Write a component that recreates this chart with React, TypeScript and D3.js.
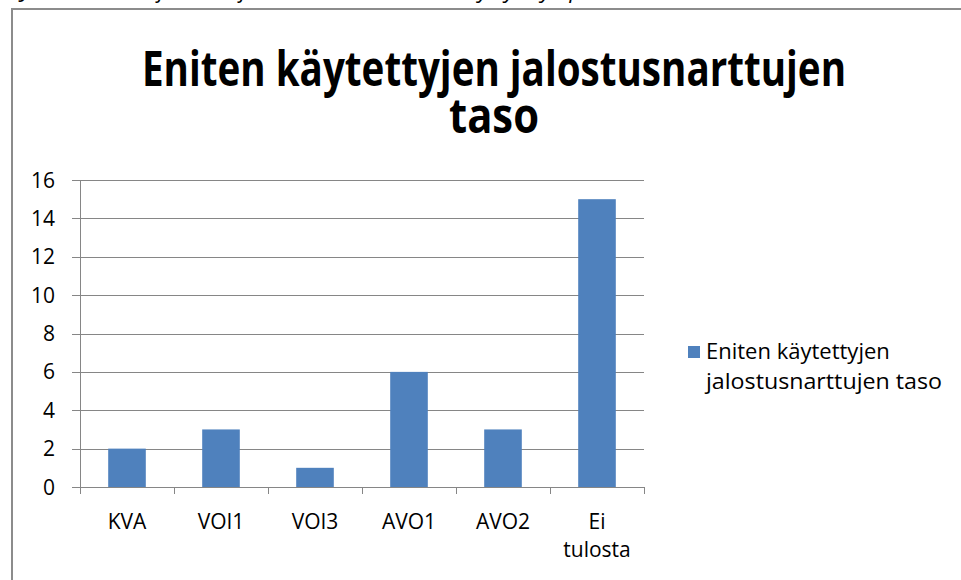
import React from "react";
import * as d3 from "d3";

const categories = ["KVA", "VOI1", "VOI3", "AVO1", "AVO2", "Ei tulosta"];
const values = [2, 3, 1, 6, 3, 15];
const yTicks = [0, 2, 4, 6, 8, 10, 12, 14, 16];
const seriesName = "Eniten käytettyjen jalostusnarttujen taso";
const titleLines = ["Eniten käytettyjen jalostusnarttujen", "taso"];
const legendLines = ["Eniten käytettyjen", "jalostusnarttujen taso"];

const W = 961;
const H = 580;
const font = "'Open Sans', 'Noto Sans', sans-serif";
const barColor = "#4f81bd";
const gridColor = "#868686";

export default function App() {
  const x = d3.scaleBand().domain(categories).range([80, 644]).paddingInner(0.6).paddingOuter(0.3);
  const band = d3.scaleBand().domain(categories).range([80, 644]);
  const y = d3.scaleLinear().domain([0, 16]).range([487, 180]);

  return (
    <svg width={W} height={H} style={{ position: "absolute", left: 0, top: 0, background: "#fff" }}>
      {/* caption line above the chart, mostly cut off */}
      <text x={22} y={-2} fontFamily={font} fontStyle="italic" fontSize={22} fill="#000">
        Jalostusnarttujen taso ja data – kuviossa esitetty kyselyn perusteella
      </text>
      <rect x={12} y={9} width={W + 10} height={H} fill="#fff" stroke="#8c8c8c" strokeWidth={2} />

      {titleLines.map((t, i) => (
        <text key={t} x={494} y={86 + i * 47} textAnchor="middle" fontFamily={font} fontWeight="bold"
          fontSize={48} fill="#000" textLength={i === 0 ? 704 : 90} lengthAdjust="spacingAndGlyphs">
          {t}
        </text>
      ))}

      {yTicks.map(t => (
        <g key={t}>
          <line x1={72} x2={644} y1={Math.round(y(t)) + 0.5} y2={Math.round(y(t)) + 0.5} stroke={gridColor} strokeWidth={1} />
          <text x={55} y={y(t) + 7.5} textAnchor="end" fontFamily={font} fontSize={21} fill="#000">{t}</text>
        </g>
      ))}
      <line x1={80.5} x2={80.5} y1={180} y2={494} stroke={gridColor} />

      {categories.map((c, i) => (
        <rect key={c} x={x(c)} y={y(values[i])} width={x.bandwidth()} height={y(0) - y(values[i])} fill={barColor} />
      ))}
      {categories.map(c => (
        <line key={c} x1={Math.round(band(c)! + band.bandwidth()) + 0.5} x2={Math.round(band(c)! + band.bandwidth()) + 0.5}
          y1={487} y2={494} stroke={gridColor} />
      ))}
      {categories.map(c => {
        const words = c.split(" ");
        const cx = band(c)! + band.bandwidth() / 2;
        return (
          <text key={c} textAnchor="middle" fontFamily={font} fontSize={21} fill="#000">
            {words.map((w, j) => (
              <tspan key={w} x={cx} y={529 + j * 28}>{w}</tspan>
            ))}
          </text>
        );
      })}

      <rect x={688} y={346} width={12} height={12} fill={barColor}>
        <title>{seriesName}</title>
      </rect>
      {legendLines.map((l, i) => (
        <text key={l} x={706} y={359 + i * 30} fontFamily={font} fontSize={22} fill="#000"
          textLength={i === 1 ? 236 : undefined} lengthAdjust="spacingAndGlyphs">{l}</text>
      ))}
    </svg>
  );
}
